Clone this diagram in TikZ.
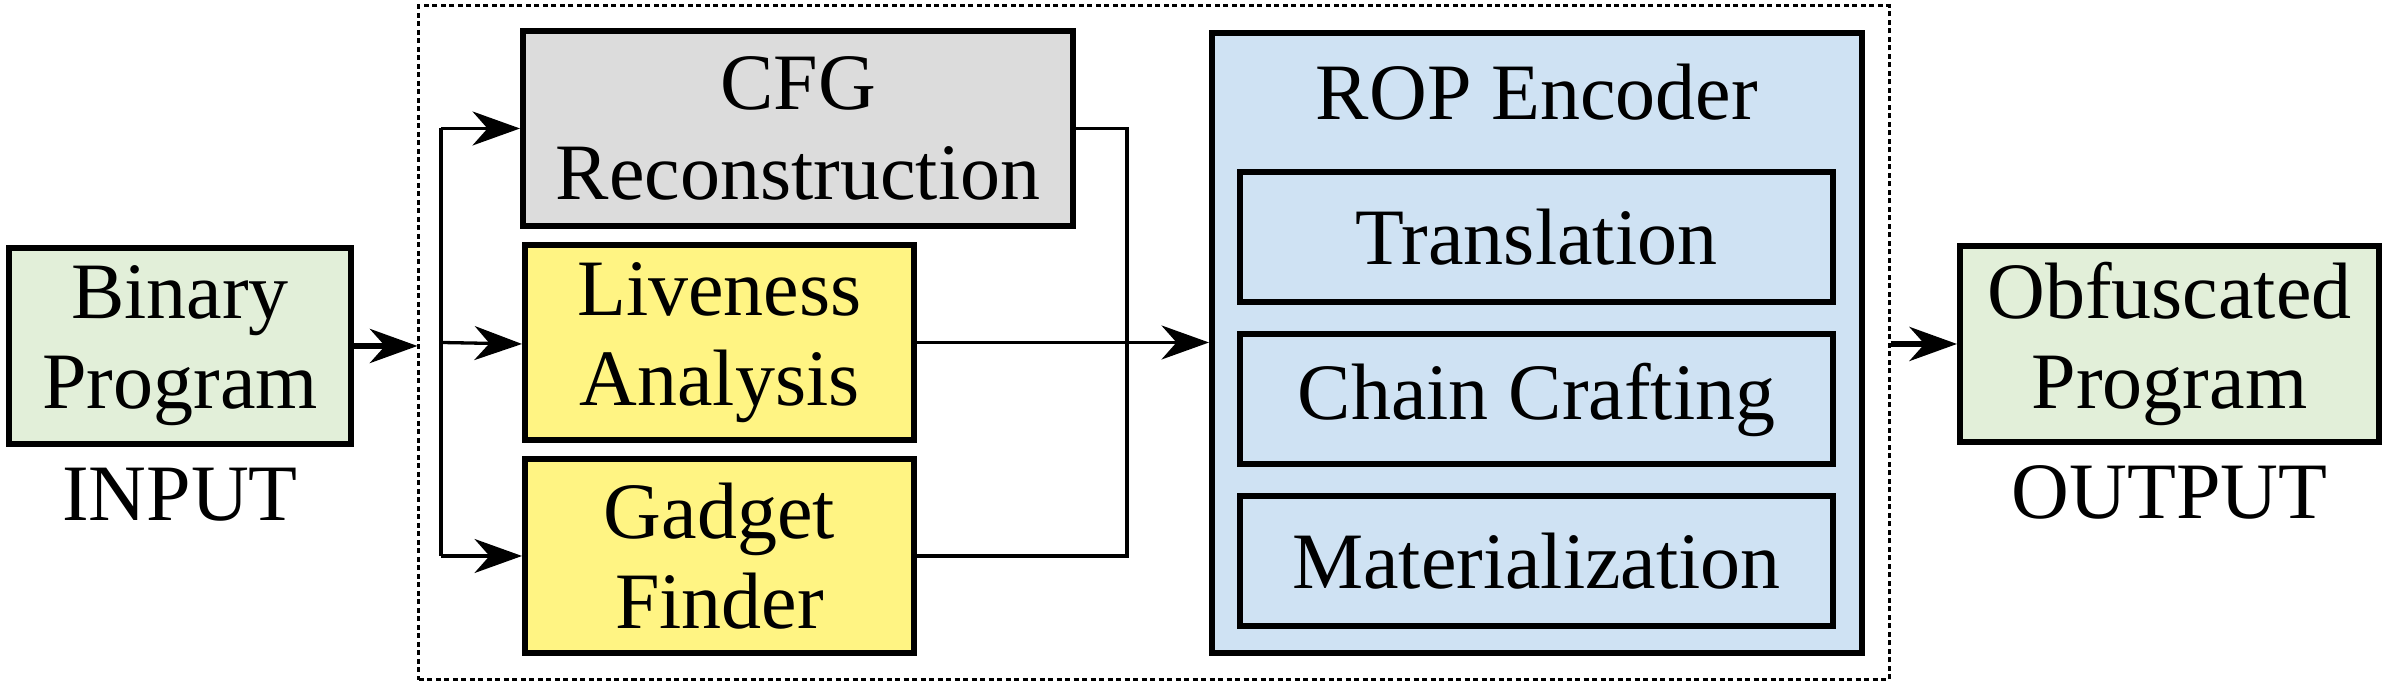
\documentclass[tikz,border=0pt]{standalone}
\usepackage{fontspec}
\setmainfont{Liberation Serif}
\usetikzlibrary{arrows.meta,positioning}

\definecolor{iogreen}{HTML}{E2EFD9}
\definecolor{cfggray}{HTML}{DCDCDC}
\definecolor{anayellow}{HTML}{FFF483}
\definecolor{ropblue}{HTML}{CFE2F3}

\tikzset{
  txt/.style={font=\fontsize{16}{18}\selectfont, align=center, inner sep=0pt},
  block/.style={txt, draw, line width=1.2pt},
  thin/.style={line width=0.66pt},
  thick/.style={line width=1.2pt},
  tip/.style={-{Stealth[length=9.5pt,width=6.8pt,inset=3pt]}}
}

\begin{document}
\begin{tikzpicture}[x=0.2pt,y=-0.2pt]
        \useasboundingbox (0,0) rectangle (2386,687);

        \node (frame) [draw, line width=0.6pt, dash pattern=on 1pt off 0.7pt,
                       minimum width=294pt, minimum height=134.8pt] at (1154,343) {};

        \node (bin) [block, fill=iogreen, minimum width=68.4pt, minimum height=39.2pt] at (180,346) {Binary\\Program};
        \node (in)  [txt, below=4pt of bin] {INPUT};

        \node (cfg)  [block, fill=cfggray,   minimum width=110pt,  minimum height=39pt] at (798,128.5) {CFG\\Reconstruction};
        \node (live) [block, fill=anayellow, minimum width=77.8pt, minimum height=39pt] at (719.5,342.5) {Liveness\\Analysis};
        \node (gad)  [block, fill=anayellow, minimum width=77.8pt, minimum height=38.8pt] at (719.5,556) {Gadget\\Finder};

        \node (rop)   [block, fill=ropblue, minimum width=130pt, minimum height=124pt] at (1537,343) {};
        \node (ropt)  [txt, anchor=base] at (1537,120) {ROP Encoder};
        \node (trans) [block, fill=ropblue, minimum width=118.6pt, minimum height=26pt] at (1536.5,237) {Translation};
        \node (chain) [block, fill=ropblue, minimum width=118.6pt, minimum height=26pt] at (1536.5,399.5) {Chain Crafting};
        \node (mat)   [block, fill=ropblue, minimum width=118.6pt, minimum height=26pt] at (1536.5,561.5) {Materialization};

        \node (obf) [block, fill=iogreen, minimum width=83.8pt, minimum height=39.2pt] at (2169.5,344) {Obfuscated\\Program};
        \node (out) [txt, below=4pt of obf] {OUTPUT};

        \coordinate (split) at (441,344);
        \coordinate (join)  at (1127,344);

        \draw [thick,tip] (bin.east) to (bin.east -| frame.west);

        \draw [thin] (split |- cfg) to (split |- gad);
        \draw [thin,tip] (split |- cfg) to (cfg);
        \draw [thin,tip] (split |- live) to (live.west |- split);
        \draw [thin,tip] (split |- gad) to (gad);

        \draw [thin] (cfg.east) to (join |- cfg) to (join |- gad) to (gad.east);
        \draw [thin,tip] (live.east) to (live.east -| rop.west);

        \draw [thick,tip] (frame.east |- obf) to (obf);
      \end{tikzpicture}
\end{document}
